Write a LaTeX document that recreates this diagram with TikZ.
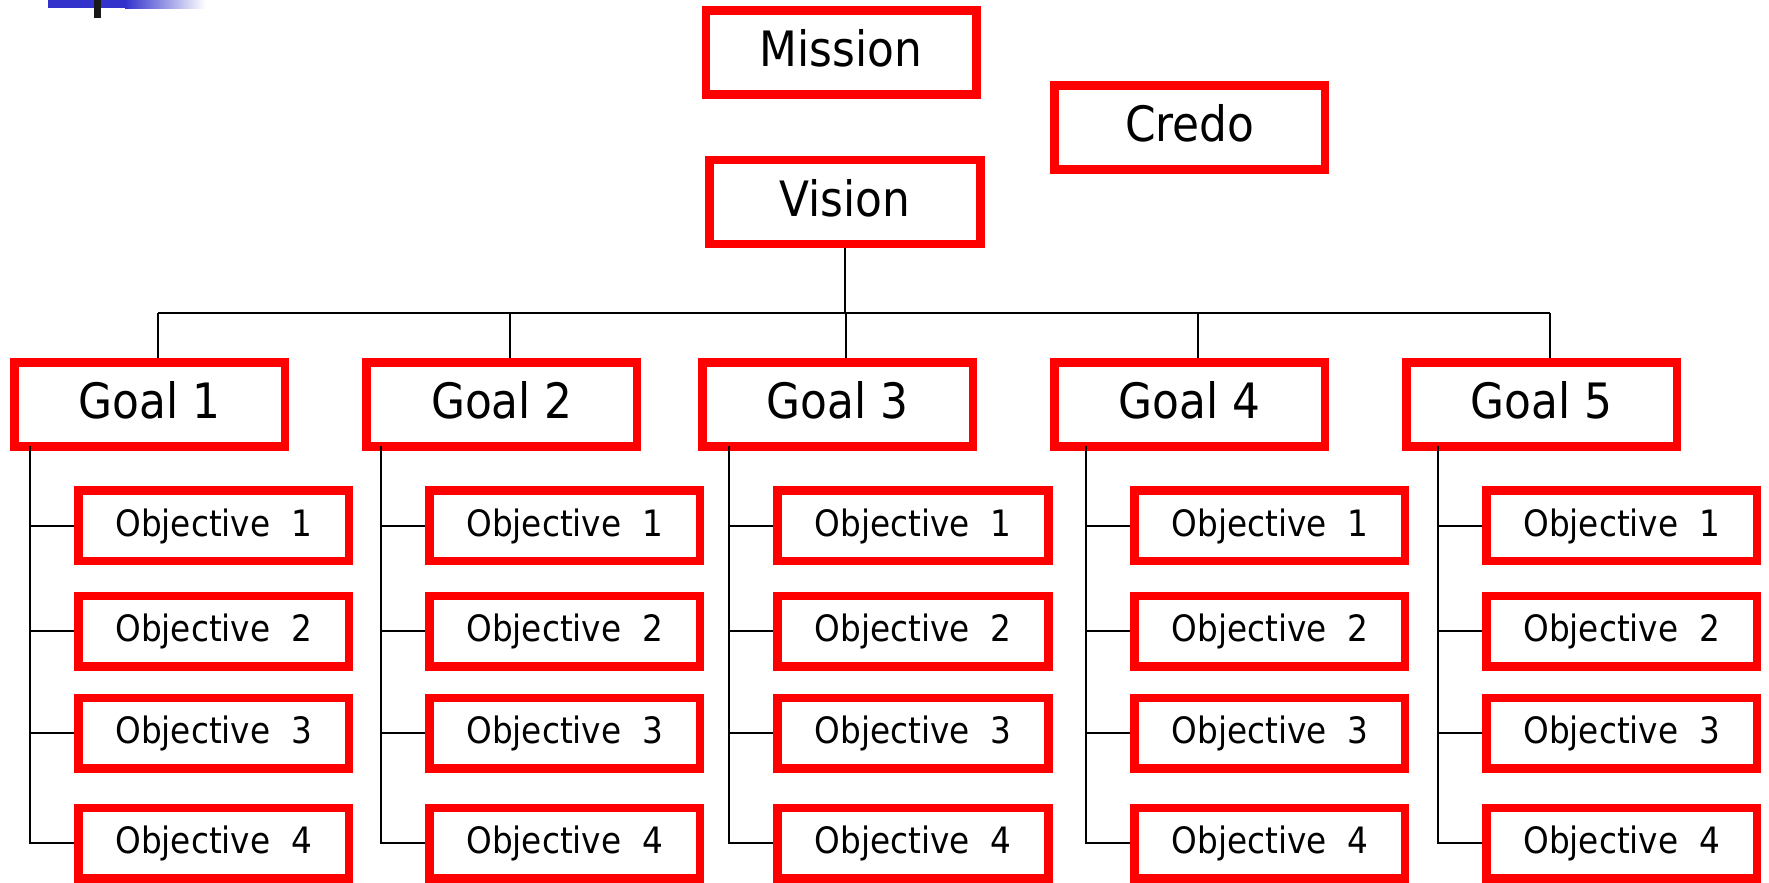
\documentclass[tikz,border=0pt]{standalone}
\usepackage{fontspec}
\setmainfont{DejaVu Sans Condensed}
\definecolor{boxred}{RGB}{255,0,0}
\definecolor{barblue}{RGB}{51,51,204}
\tikzset{
  redbox/.style={draw=boxred, line width=3.8pt, fill=white, inner sep=0pt,
    minimum width=119.9pt},
  bigbox/.style={redbox, minimum height=37.2pt, text height=15.8pt, text depth=3.3pt,
    font=\fontsize{21.6}{24}\selectfont},
  objbox/.style={redbox, minimum height=31.2pt, text height=11.8pt, text depth=2.4pt,
    font=\fontsize{16.1}{19}\selectfont},
  link/.style={draw=black, line width=1pt}
}
\begin{document}
\begin{tikzpicture}[x=0.5pt,y=-0.5pt]
\useasboundingbox (0,0) rectangle (1568,782);
% top-left decoration
\fill[barblue] (42.5,0) rectangle (111,7.5);
\shade[left color=barblue, right color=white] (111,0) rectangle (182,7.7);
\fill[black!90] (83.3,0) rectangle (89.5,16);

% top boxes
\node[bigbox] (m) at (745.5,46.4) {Mission};
\node[bigbox] (c) at (1054.5,112.8) {Credo};
\node[bigbox] (v) at (749,179) {Vision};

% goals
\foreach \i/\x in {1/132.7,2/444.9,3/742.5,4/1054.4,5/1366.6}{
  \node[bigbox] (g\i) at (\x,358.5) {Goal \i};
}

% objectives
\foreach \i/\x in {1/189.4,2/500.5,3/809.3,4/1125.6,5/1437.4}{
  \foreach \j/\y in {1/466,2/559.6,3/650,4/747.5}{
    \node[objbox] (o\i\j) at (\x,\y) {Objective~~\j};
  }
}

% bus
\coordinate (bus) at (749,277.6);
\foreach \i/\x in {1/140,2/452,3/750,4/1062,5/1374}{
  \coordinate (d\i) at (\x,277.6);
}
\draw[link] (v.south) -- (bus);
\draw[link] (d1) -- (d5);
\foreach \i in {1,...,5}{
  \draw[link] (d\i) -- (d\i |- g\i.north);
}

% spines
\foreach \i/\x in {1/26.6,2/337.6,3/646,4/962.6,5/1274.7}{
  \coordinate (s\i) at (\x,400);
  \draw[link] ([yshift=2pt]g\i.south -| s\i) |- (o\i4.west);
  \foreach \j in {1,2,3}{
    \draw[link] (s\i |- o\i\j.west) -- (o\i\j.west);
  }
}
\end{tikzpicture}
\end{document}
